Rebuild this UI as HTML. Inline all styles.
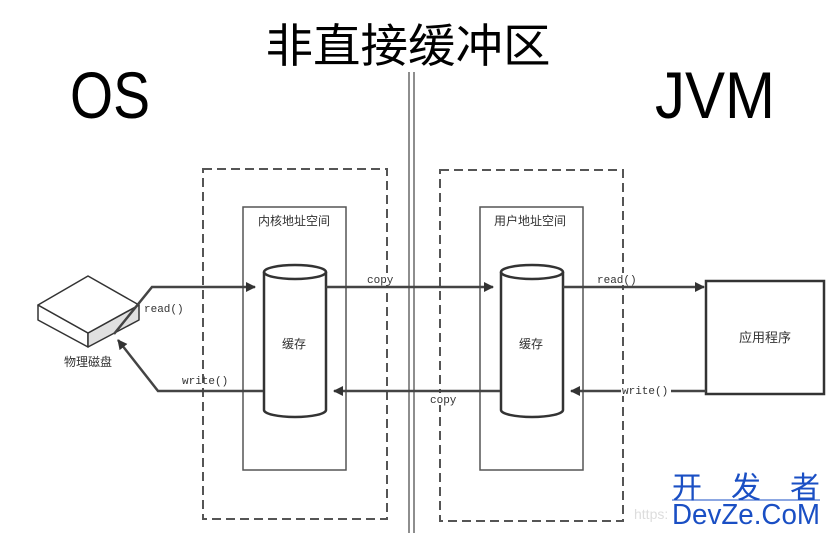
<!DOCTYPE html>
<html><head><meta charset="utf-8"><style>
html,body{margin:0;padding:0;background:#fff;}
svg{display:block;}
</style></head><body>
<svg width="830" height="533" viewBox="0 0 830 533" xmlns="http://www.w3.org/2000/svg">
<defs>
<marker id="ah" markerWidth="10" markerHeight="10" refX="9" refY="5" orient="auto" markerUnits="userSpaceOnUse">
<path d="M0,0 L10,5 L0,10 Z" fill="#333"/>
</marker>
</defs>
<rect width="830" height="533" fill="#fff"/>
<text x="408" y="62" text-anchor="middle" font-family="'Noto Sans CJK SC','WenQuanYi Zen Hei',sans-serif" font-size="46" textLength="285" lengthAdjust="spacingAndGlyphs" fill="#000">非直接缓冲区</text>
<text x="70" y="118" font-family="'Liberation Sans',sans-serif" font-size="66" textLength="80" lengthAdjust="spacingAndGlyphs" fill="#000">OS</text>
<text x="655" y="118" font-family="'Liberation Sans',sans-serif" font-size="66" textLength="120" lengthAdjust="spacingAndGlyphs" fill="#000">JVM</text>
<line x1="409" y1="72" x2="409" y2="533" stroke="#444" stroke-width="1.2"/>
<line x1="414" y1="72" x2="414" y2="533" stroke="#444" stroke-width="1.2"/>
<rect x="203" y="169" width="184" height="350" fill="none" stroke="#555" stroke-width="2" stroke-dasharray="9,5"/>
<rect x="440" y="170" width="183" height="351" fill="none" stroke="#555" stroke-width="2" stroke-dasharray="9,5"/>
<rect x="243" y="207" width="103" height="263" fill="none" stroke="#555" stroke-width="1.5"/>
<rect x="480" y="207" width="103" height="263" fill="none" stroke="#555" stroke-width="1.5"/>
<g stroke="#333" stroke-width="2.5" fill="#fff">
<path d="M264,272 L264,410 A31,7 0 0 0 326,410 L326,272"/>
<ellipse cx="295" cy="272" rx="31" ry="7"/>
<path d="M501,272 L501,410 A31,7 0 0 0 563,410 L563,272"/>
<ellipse cx="532" cy="272" rx="31" ry="7"/>
</g>
<g stroke="#333" stroke-width="1.5" stroke-linejoin="round">
<path d="M38,305 L88,333 L88,347 L38,320 Z" fill="#fff"/>
<path d="M88,333 L139,305 L139,320 L88,347 Z" fill="#e0e0e0"/>
<path d="M88,276 L139,305 L88,333 L38,305 Z" fill="#fff"/>
</g>
<rect x="706" y="281" width="118" height="113" fill="#fff" stroke="#333" stroke-width="2.5"/>
<g font-family="'Noto Sans CJK SC','WenQuanYi Zen Hei',sans-serif" font-size="12" fill="#333">
<text x="294" y="225" text-anchor="middle">内核地址空间</text>
<text x="530" y="225" text-anchor="middle">用户地址空间</text>
<text x="294" y="348" text-anchor="middle">缓存</text>
<text x="531" y="348" text-anchor="middle">缓存</text>
<text x="765" y="342" text-anchor="middle" font-size="13">应用程序</text>
<text x="88" y="366" text-anchor="middle">物理磁盘</text>
</g>
<g stroke="#444" stroke-width="2.5" fill="none">
<polyline points="114,334 152,287 255,287" marker-end="url(#ah)"/>
<polyline points="263,391 158,391 118,340" marker-end="url(#ah)"/>
<line x1="326" y1="287" x2="493" y2="287" marker-end="url(#ah)"/>
<line x1="500" y1="391" x2="334" y2="391" marker-end="url(#ah)"/>
<line x1="563" y1="287" x2="704" y2="287" marker-end="url(#ah)"/>
<line x1="706" y1="391" x2="571" y2="391" marker-end="url(#ah)"/>
</g>
<g font-family="'Liberation Mono',monospace" font-size="11" fill="#333">
<rect x="366" y="273" width="32" height="12" fill="#fff"/>
<text x="367" y="283">copy</text>
<rect x="429" y="393" width="32" height="12" fill="#fff"/>
<text x="430" y="403">copy</text>
<text x="144" y="312">read()</text>
<text x="182" y="384">write()</text>
<rect x="596" y="273" width="44" height="12" fill="#fff"/>
<text x="597" y="283">read()</text>
<rect x="621" y="384" width="50" height="12" fill="#fff"/>
<text x="622" y="394">write()</text>
</g>
<text x="672" y="498" font-family="'Noto Sans CJK SC',sans-serif" font-size="30" textLength="148" lengthAdjust="spacing" fill="#1a4fc4">开发者</text>
<line x1="672" y1="500" x2="820" y2="500" stroke="#1a4fc4" stroke-width="1"/>
<text x="634" y="519" font-family="'Liberation Sans',sans-serif" font-size="14" fill="#ddd">https:</text>
<text x="672" y="524" font-family="'Liberation Sans',sans-serif" font-size="29" textLength="148" lengthAdjust="spacingAndGlyphs" fill="#1a4fc4">DevZe.CoM</text>
</svg>
</body></html>
